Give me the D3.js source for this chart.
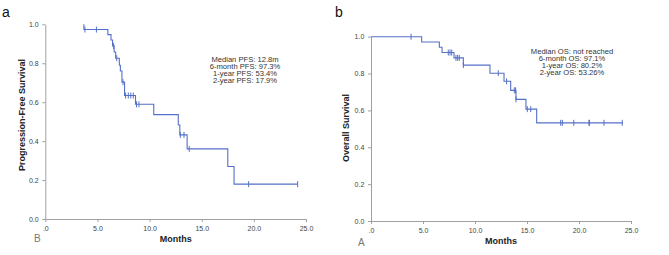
<!DOCTYPE html>
<html>
<head>
<meta charset="utf-8">
<script src="https://cdn.jsdelivr.net/npm/d3@7"></script>
<style>
  body { margin: 0; background: #fff; }
  svg { display: block; font-family: Arial, "Liberation Sans", sans-serif; }
</style>
</head>
<body>
<div id="chart"></div>
<script>
// Panel a: progression-free survival (step drops and censored times)
const pfsStart = 3.7;
const pfsEventTimes = [3.7, 6.0, 6.3, 6.45, 6.6, 6.75, 7.1, 7.2, 7.35, 7.6, 8.65, 10.4, 12.75, 12.9, 13.6, 17.5, 18.1];
const pfsSurvival = [0.973, 0.947, 0.919, 0.889, 0.858, 0.826, 0.79, 0.76, 0.703, 0.634, 0.589, 0.536, 0.483, 0.432, 0.36, 0.27, 0.179];
const pfsCensored = [3.8, 4.9, 6.55, 6.85, 7.45, 7.7, 7.96, 8.2, 8.44, 8.75, 8.98, 12.95, 13.3, 13.8, 19.5, 24.2];
const pfsEnd = 24.2;
const pfsNotes = ["Median PFS: 12.8m", "6-month PFS: 97.3%", "1-year PFS: 53.4%", "2-year PFS: 17.9%"];

// Panel b: overall survival
const osStart = 0;
const osEventTimes = [4.87, 6.57, 6.83, 7.98, 8.88, 11.44, 12.79, 13.43, 13.94, 14.9, 15.93];
const osSurvival = [0.971, 0.943, 0.914, 0.885, 0.846, 0.802, 0.758, 0.709, 0.66, 0.607, 0.5326];
const osCensored = [3.85, 7.43, 7.6, 7.76, 8.17, 8.33, 8.49, 8.88, 12.24, 13.04, 13.78, 13.9, 13.94, 15.03, 15.36, 18.24, 18.4, 19.5, 20.96, 21.0, 22.4, 24.16];
const osEnd = 24.2;
const osNotes = ["Median OS: not reached", "6-month OS: 97.1%", "1-year OS: 80.2%", "2-year OS: 53.26%"];

const xTicks = [0, 5, 10, 15, 20, 25];
const yTicks = [0, 0.2, 0.4, 0.6, 0.8, 1.0];

const width = 669, height = 255;
const lineColor = "#5470c8";
const axisColor = "#a0a0a0";

const svg = d3.select("#chart").append("svg")
    .attr("width", width)
    .attr("height", height);

function drawPanel(p) {
    const x = d3.scaleLinear().domain([0, 25]).range([p.left, p.right]);
    const y = d3.scaleLinear().domain([0, 1]).range([p.bottom, p.top]);
    const g = svg.append("g");

    // axes
    const xAxis = d3.axisBottom(x).tickValues(xTicks).tickSize(3).tickSizeOuter(0)
        .tickFormat(d => d === 0 ? ".0" : d3.format(".1f")(d));
    const gx = g.append("g").attr("transform", `translate(0,${p.bottom})`).call(xAxis);
    const yAxis = d3.axisLeft(y).tickValues(yTicks).tickSize(3).tickSizeOuter(0)
        .tickFormat(d3.format(".1f"));
    const gy = g.append("g").attr("transform", `translate(${p.left},0)`).call(yAxis);
    [gx, gy].forEach(a => {
        a.select(".domain").attr("stroke", axisColor);
        a.selectAll(".tick line").attr("stroke", axisColor);
        a.selectAll(".tick text").attr("fill", "#444").style("font-size", "7px")
            .style("font-family", "Arial, 'Liberation Sans', sans-serif");
    });
    gx.selectAll(".tick text").attr("dy", "0.85em");
    gy.selectAll(".tick text").attr("dx", "-0.1em");

    // step curve
    const pts = [[p.start, 1]];
    let prev = 1;
    p.times.forEach((t, i) => {
        pts.push([t, prev]);
        pts.push([t, p.surv[i]]);
        prev = p.surv[i];
    });
    pts.push([p.end, prev]);
    g.append("path")
        .attr("d", d3.line().x(d => x(d[0])).y(d => y(d[1]))(pts))
        .attr("fill", "none")
        .attr("stroke", lineColor)
        .attr("stroke-width", 1.1);

    // censor marks
    const survAt = t => {
        let s = 1;
        p.times.forEach((et, i) => { if (et <= t) s = p.surv[i]; });
        return s;
    };
    g.selectAll(".censor").data(p.censored).enter().append("line")
        .attr("x1", d => x(d)).attr("x2", d => x(d))
        .attr("y1", d => y(survAt(d)) - 3).attr("y2", d => y(survAt(d)) + 3)
        .attr("stroke", lineColor).attr("stroke-width", 1);

    // notes
    g.append("text")
        .attr("x", p.noteX).attr("y", p.noteY)
        .attr("text-anchor", "middle")
        .style("font-size", "7.6px").attr("fill", "#333")
        .selectAll("tspan").data(p.notes).enter().append("tspan")
        .attr("x", p.noteX).attr("dy", (d, i) => i === 0 ? 0 : 7.1)
        .text(d => d);

    // axis titles
    g.append("text")
        .attr("x", (p.left + p.right) / 2 + p.titleShift).attr("y", p.bottom + 23)
        .attr("text-anchor", "middle")
        .style("font-size", "9px").style("font-weight", "bold").attr("fill", "#222")
        .text("Months");
    g.append("text")
        .attr("transform", `translate(${p.yTitleX},${p.yTitleY}) rotate(-90)`)
        .attr("text-anchor", "middle")
        .style("font-size", "9px").style("font-weight", "bold").attr("fill", "#222")
        .text(p.yTitle);

    // panel letters
    g.append("text").attr("x", p.letterX).attr("y", 17)
        .style("font-size", "14px").attr("fill", "#111").text(p.letter);
    g.append("text").attr("x", p.subX).attr("y", p.subY)
        .style("font-size", "10px").attr("fill", "#777").text(p.sub);
}

drawPanel({
    left: 45.3, right: 306, top: 24.3, bottom: 219,
    start: pfsStart, times: pfsEventTimes, surv: pfsSurvival, censored: pfsCensored, end: pfsEnd,
    notes: pfsNotes, noteX: 245, noteY: 62,
    yTitle: "Progression-Free Survival", yTitleX: 25, yTitleY: 115,
    titleShift: 0, letter: "a", letterX: 2, sub: "B", subX: 34, subY: 242
});

drawPanel({
    left: 371, right: 631, top: 36.7, bottom: 221,
    start: osStart, times: osEventTimes, surv: osSurvival, censored: osCensored, end: osEnd,
    notes: osNotes, noteX: 572, noteY: 54,
    yTitle: "Overall Survival", yTitleX: 349, yTitleY: 128,
    titleShift: 0, letter: "b", letterX: 335, sub: "A", subX: 358, subY: 246
});
</script>
</body>
</html>
